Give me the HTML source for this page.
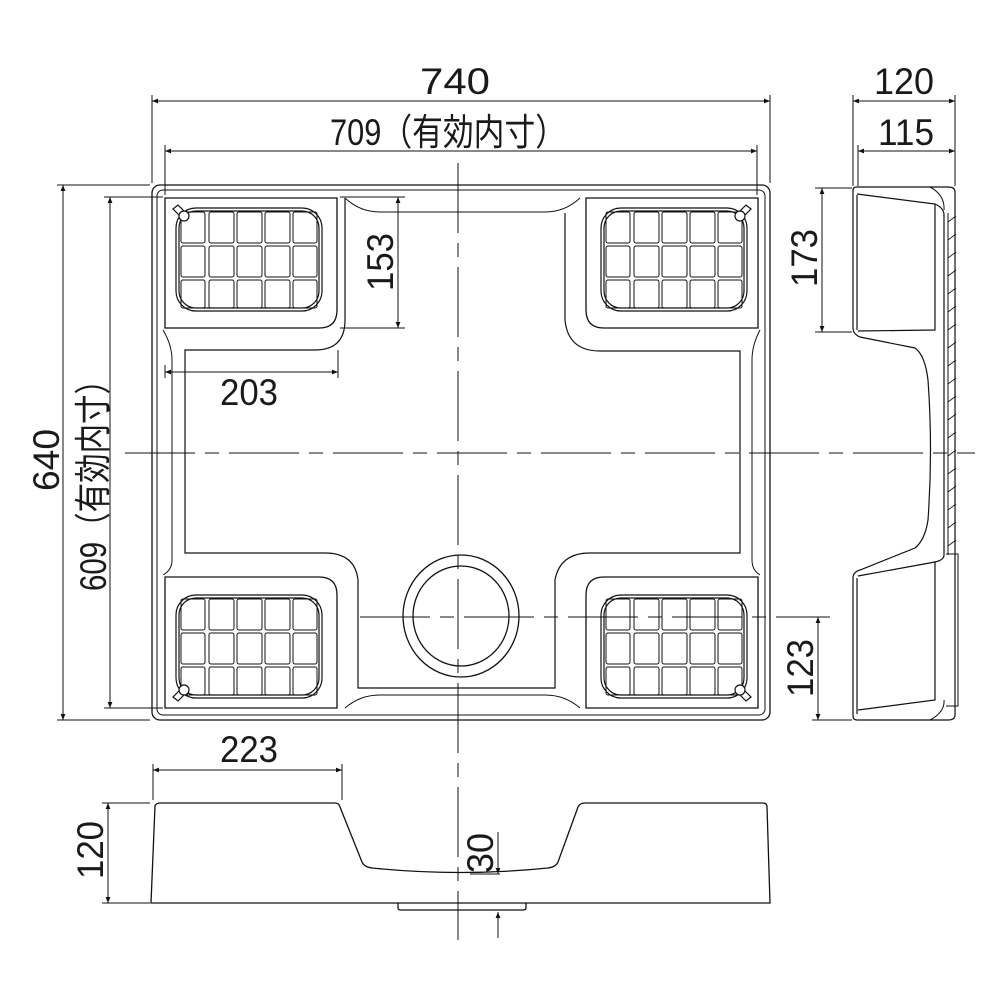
<!DOCTYPE html>
<html><head><meta charset="utf-8"><style>
html,body{margin:0;padding:0;background:#fff}
svg{display:block}
text{font-family:"Liberation Sans","Noto Sans CJK JP",sans-serif;fill:#1a1a1a}
</style></head><body>
<svg width="1000" height="1000" viewBox="0 0 1000 1000" xmlns="http://www.w3.org/2000/svg">
<defs>
<marker id="a" viewBox="0 0 10 10" refX="10" refY="5" markerWidth="10" markerHeight="6" orient="auto-start-reverse" markerUnits="userSpaceOnUse"><path d="M0,1 L10,5 L0,9z" fill="#111"/></marker>
<g id="grid" fill="none" stroke="#111" stroke-width="1.2">
<rect x="0" y="0" width="146" height="103" rx="20"/>
<rect x="3" y="3" width="140" height="97" rx="17"/>
<g stroke-width="1">
<rect x="5" y="4" width="24" height="31" rx="2"/><rect x="33" y="4" width="25" height="31" rx="2"/><rect x="61" y="4" width="25" height="31" rx="2"/><rect x="89" y="4" width="25" height="31" rx="2"/><rect x="117" y="4" width="24" height="31" rx="2"/>
<rect x="5" y="38" width="24" height="31" rx="2"/><rect x="33" y="38" width="25" height="31" rx="2"/><rect x="61" y="38" width="25" height="31" rx="2"/><rect x="89" y="38" width="25" height="31" rx="2"/><rect x="117" y="38" width="24" height="31" rx="2"/>
<rect x="5" y="72" width="24" height="28" rx="2"/><rect x="33" y="72" width="25" height="28" rx="2"/><rect x="61" y="72" width="25" height="28" rx="2"/><rect x="89" y="72" width="25" height="28" rx="2"/><rect x="117" y="72" width="24" height="28" rx="2"/>
</g></g>
</defs>
<g fill="none" stroke="#111" stroke-width="1.3">
<rect x="152" y="185" width="618" height="535" rx="8"/>
<rect x="157" y="190" width="608" height="525" rx="6" stroke-width="1"/>
<path d="M165,198 H337 V310 Q337,328 319,328 H165 Z"/>
<path d="M758,198 H586 V310 Q586,328 604,328 H758 Z"/>
<path d="M165,708 H337 V595 Q337,577 319,577 H165 Z"/>
<path d="M758,708 H586 V595 Q586,577 604,577 H758 Z"/>
<path d="M345,198 Q360,212 380,212 H545 Q565,212 580,198" stroke-width="1"/>
<path d="M345,708 Q360,695 380,695 H545 Q565,695 580,708" stroke-width="1"/>
<path d="M163,330 Q172,345 172,360 V560 Q172,570 163,575" stroke-width="1"/>
<path d="M760,330 Q752,345 752,360 V560 Q752,570 760,575" stroke-width="1"/>
<path d="M345,198 V320 Q345,350 315,350 H185 V553 H325 Q355,553 358,580 V688 H555 V580 Q560,553 590,553 H740 V351 H600 Q568,351 565,320 V213" stroke-width="1.2"/>
<ellipse cx="461" cy="616" rx="58" ry="61"/>
<ellipse cx="461" cy="616" rx="48" ry="50"/>
</g>
<use href="#grid" x="176" y="208"/>
<use href="#grid" x="601" y="208"/>
<use href="#grid" x="176" y="595"/>
<use href="#grid" x="601" y="595"/>
<g fill="#fff" stroke="#111" stroke-width="1.2">
<path d="M173,209 L178,205 L188,215 L183,219Z"/><circle cx="184" cy="216" r="5"/>
<path d="M751,209 L746,205 L736,215 L741,219Z"/><circle cx="740" cy="216" r="5"/>
<path d="M173,697 L178,701 L188,691 L183,687Z"/><circle cx="184" cy="690" r="5"/>
<path d="M751,697 L746,701 L736,691 L741,687Z"/><circle cx="740" cy="690" r="5"/>
</g>
<g stroke="#111" stroke-width="1" fill="none">
<path d="M458,163 V940" stroke-dasharray="70,10,14,10"/>
<path d="M125,453 H975" stroke-dasharray="70,10,14,10"/>
<path d="M360,617 H830" stroke-dasharray="70,10,14,10"/>
</g>
<g fill="none" stroke="#111" stroke-width="1.2">
<path d="M853,190 Q853,187 857,187 H948 Q955,187 955,192 V715 Q955,720 948,720 H857 Q853,720 853,716 V578 Q853,572 860,570 L915,548 Q925,540 928,520 Q933,450 928,380 Q925,355 915,348 L860,337 Q853,334 853,328 Z"/>
<path d="M857,194 L935,204 V330 L858,331"/>
<path d="M857,195 V330 M857,578 V714"/>
<path d="M858,576 L935,562 V700 L858,710"/>
<path d="M935,204 Q944,208 944,215 V555 Q944,560 935,562"/>
<path d="M948,213 V555" stroke-width="1"/>
<path d="M946,554 H958 V706 H946" stroke-width="1"/>
<path d="M930,187 Q945,195 944,210 M930,720 Q945,712 944,700" stroke-width="1"/>
</g>
<path d="M948,222 l8,-6 M948,240 l8,-6 M948,258 l8,-6 M948,276 l8,-6 M948,294 l8,-6 M948,312 l8,-6 M948,330 l8,-6 M948,348 l8,-6 M948,366 l8,-6 M948,384 l8,-6 M948,402 l8,-6 M948,420 l8,-6 M948,438 l8,-6 M948,456 l8,-6 M948,474 l8,-6 M948,492 l8,-6 M948,510 l8,-6 M948,528 l8,-6 M948,546 l8,-6" stroke="#111" stroke-width="0.8"/>
<g fill="none" stroke="#111" stroke-width="1.3">
<path d="M151,903 L155,806 Q156,803 160,803 H335 Q339,803 340,807 L362,862 Q364,867 372,868 Q460,877 548,868 Q556,867 558,862 L578,807 Q580,803 585,803 H763 Q767,803 767,807 L770,903 Z"/>
<path d="M398,903 V908 Q398,910 401,910 H523 Q526,910 526,908 V903"/>
</g>
<g stroke="#111" stroke-width="1" fill="none">
<path d="M152,95 V183 M770,95 V183 M165,145 V195 M757,145 V195"/>
<path d="M152,101 H770" marker-start="url(#a)" marker-end="url(#a)"/>
<path d="M165,151 H757" marker-start="url(#a)" marker-end="url(#a)"/>
<path d="M853,95 V186 M955,95 V186 M858,145 V186"/>
<path d="M853,101 H955" marker-start="url(#a)" marker-end="url(#a)"/>
<path d="M858,151 H955" marker-start="url(#a)" marker-end="url(#a)"/>
<path d="M57,185 H150 M57,720 H150 M104,197 H163 M104,708 H163"/>
<path d="M63,185 V720" marker-start="url(#a)" marker-end="url(#a)"/>
<path d="M110,197 V708" marker-start="url(#a)" marker-end="url(#a)"/>
<path d="M340,197 H405 M340,328 H405"/>
<path d="M398,197 V328" marker-start="url(#a)" marker-end="url(#a)"/>
<path d="M165,365 V378 M338,350 V378"/>
<path d="M165,372 H338" marker-start="url(#a)" marker-end="url(#a)"/>
<path d="M815,188 H852 M815,332 H852"/>
<path d="M822,188 V332" marker-start="url(#a)" marker-end="url(#a)"/>
<path d="M812,720 H852"/>
<path d="M818,617 V720" marker-start="url(#a)" marker-end="url(#a)"/>
<path d="M153,764 V800 M342,764 V800"/>
<path d="M153,770 H342" marker-start="url(#a)" marker-end="url(#a)"/>
<path d="M102,803 H150 M102,903 H150"/>
<path d="M108,803 V903" marker-start="url(#a)" marker-end="url(#a)"/>
<path d="M498,832 V874" marker-end="url(#a)"/>
<path d="M498,938 V912" marker-end="url(#a)"/>
<path d="M470,874 H500"/>
</g>
<g font-size="37">
<text x="455" y="94" text-anchor="middle" textLength="70" lengthAdjust="spacingAndGlyphs">740</text>
<text x="448" y="145" text-anchor="middle" textLength="236" lengthAdjust="spacingAndGlyphs">709（有効内寸）</text>
<text x="904" y="94" text-anchor="middle" textLength="60" lengthAdjust="spacingAndGlyphs">120</text>
<text x="906" y="145" text-anchor="middle" textLength="56" lengthAdjust="spacingAndGlyphs">115</text>
<text x="249" y="405" text-anchor="middle" textLength="58" lengthAdjust="spacingAndGlyphs">203</text>
<text x="249" y="762" text-anchor="middle" textLength="58" lengthAdjust="spacingAndGlyphs">223</text>
<text transform="translate(59,460) rotate(-90)" text-anchor="middle" textLength="62" lengthAdjust="spacingAndGlyphs">640</text>
<text transform="translate(106,478) rotate(-90)" text-anchor="middle" textLength="226" lengthAdjust="spacingAndGlyphs">609（有効内寸）</text>
<text transform="translate(393,262) rotate(-90)" text-anchor="middle" textLength="58" lengthAdjust="spacingAndGlyphs">153</text>
<text transform="translate(817,258) rotate(-90)" text-anchor="middle" textLength="58" lengthAdjust="spacingAndGlyphs">173</text>
<text transform="translate(813,668) rotate(-90)" text-anchor="middle" textLength="58" lengthAdjust="spacingAndGlyphs">123</text>
<text transform="translate(103,850) rotate(-90)" text-anchor="middle" textLength="58" lengthAdjust="spacingAndGlyphs">120</text>
<text transform="translate(493,853) rotate(-90)" text-anchor="middle" textLength="40" lengthAdjust="spacingAndGlyphs">30</text>
</g>
</svg>
</body></html>
